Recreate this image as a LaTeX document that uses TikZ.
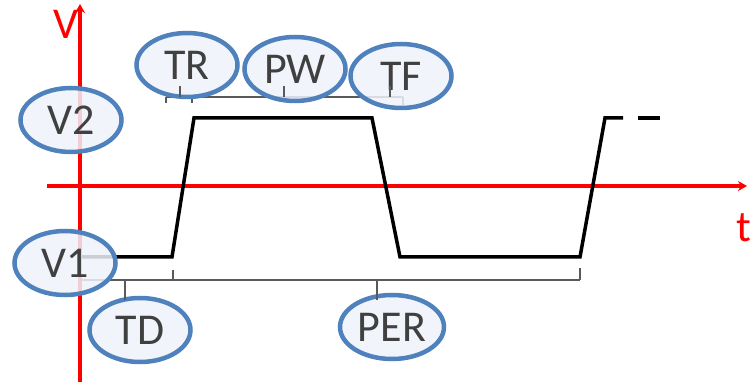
\documentclass[tikz,border=0pt]{standalone}
\usepackage{fontspec}
\setmainfont{Carlito}
\usetikzlibrary{shapes.geometric,arrows.meta}
\definecolor{axisred}{HTML}{FF0000}
\definecolor{ellblue}{HTML}{4F81BD}
\definecolor{ellfill}{HTML}{EFF3FA}
\definecolor{txtgray}{HTML}{404040}
\definecolor{brgray}{HTML}{5A5A5A}
\tikzset{
  axisline/.style={draw=axisred,line width=3.5pt,-{Stealth[length=9pt,width=10pt]}},
  wave/.style={draw=black,line width=3.5pt,line join=miter},
  bracket/.style={draw=brgray,line width=2.8pt},
  tag/.style={ellipse,draw=ellblue,line width=4.5pt,fill=ellfill,fill opacity=0.85,text opacity=1,
    text=txtgray,inner sep=0pt,minimum width=101pt,minimum height=64pt,
    font=\fontsize{44}{48}\selectfont},
  axislabel/.style={text=axisred,inner sep=0pt,font=\fontsize{44}{48}\selectfont}
}
\begin{document}
\begin{tikzpicture}[x=1pt,y=-1pt]
\useasboundingbox (0,0) rectangle (753,382);
\fill[white] (0,0) rectangle (753,382);
% axes
\coordinate (vbot) at (80,382);
\coordinate (vtop) at (80,4);
\coordinate (hl) at (47,186);
\coordinate (hr) at (747,186);
\draw[axisline] (vbot) -- (vtop);
\draw[axisline] (hl) -- (hr);
\node[axislabel] (vlab) at (66,24) {V};
\node[axislabel] (tlab) at (744,228) {t};
% waveform
\coordinate (w0) at (82,257);
\coordinate (w1) at (172,257);
\coordinate (w2) at (194,118);
\coordinate (w3) at (372,118);
\coordinate (w4) at (400,257);
\coordinate (w5) at (580,257);
\coordinate (w6) at (605,118);
\coordinate (w7) at (623,118);
\coordinate (d0) at (638,118);
\coordinate (d1) at (660,118);
\draw[wave] (w0) -- (w1) -- (w2) -- (w3) -- (w4) -- (w5) -- (w6) -- (w7);
\draw[wave] (d0) -- (d1);
% top bracket
\coordinate (tb0) at (166,97);
\coordinate (tb1) at (403,97);
\draw[bracket] (tb0) -- (tb1);
\draw[bracket] (tb0) -- ++(0,6);
\draw[bracket] (192,97) -- ++(0,6);
\draw[bracket] (tb1) -- ++(0,8);
% bottom bracket
\coordinate (bb0) at (82,280);
\coordinate (bb1) at (580,280);
\draw[bracket] (bb0) -- (bb1);
\draw[bracket] (173,280) -- ++(0,-10);
\draw[bracket] (bb1) -- ++(0,-12);
% ellipses
\node[tag] (TR) at (187,65) {TR};
\node[tag] (PW) at (295,69) {PW};
\node[tag] (TF) at (401,76) {TF};
\node[tag] (V2) at (71,120) {V2};
\node[tag] (V1) at (65,263) {V1};
\node[tag] (TD) at (140,330) {TD};
\node[tag,minimum width=104pt] (PER) at (392,327) {PER};
% label ticks
\draw[bracket] (180,97) -- (180,86);
\draw[bracket] (284,97) -- (284,86);
\draw[bracket] (390,97) -- (390,86);
\draw[bracket] (125,280) -- (125,300);
\draw[bracket] (377,280) -- (377,300);
\end{tikzpicture}
\end{document}
